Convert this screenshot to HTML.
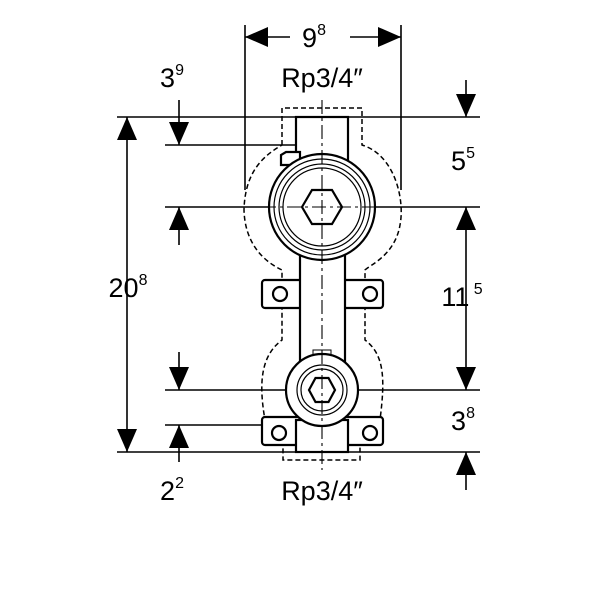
<!DOCTYPE html>
<html><head><style>body{margin:0;background:#fff}svg{display:block}</style></head><body>
<svg width="600" height="600" viewBox="0 0 600 600" xmlns="http://www.w3.org/2000/svg" font-family="Liberation Sans, sans-serif">
<g stroke="#000" stroke-width="1.6" fill="none">
<line x1="245" y1="25" x2="245" y2="190"/><line x1="401" y1="25" x2="401" y2="190"/>
<line x1="245" y1="37" x2="290" y2="37"/><line x1="350" y1="37" x2="401" y2="37"/>
<line x1="117" y1="117" x2="480" y2="117"/>
<line x1="165" y1="145" x2="300" y2="145"/>
<line x1="165" y1="207" x2="480" y2="207"/>
<line x1="165" y1="390" x2="480" y2="390"/>
<line x1="165" y1="425" x2="300" y2="425"/>
<line x1="117" y1="452" x2="480" y2="452"/>
<line x1="127" y1="117" x2="127" y2="452"/>
<line x1="179" y1="100" x2="179" y2="145"/><line x1="179" y1="207" x2="179" y2="245"/>
<line x1="179" y1="352" x2="179" y2="390"/><line x1="179" y1="425" x2="179" y2="462"/>
<line x1="466" y1="80" x2="466" y2="117"/><line x1="466" y1="207" x2="466" y2="390"/>
<line x1="466" y1="452" x2="466" y2="490"/>
</g>
<g fill="#000">
<polygon points="245,37 268,27 268,47"/><polygon points="401,37 378,27 378,47"/>
<polygon points="127,117 117,140 137,140"/><polygon points="127,452 117,429 137,429"/>
<polygon points="179,145 169,122 189,122"/><polygon points="179,207 169,230 189,230"/>
<polygon points="179,390 169,367 189,367"/><polygon points="179,425 169,448 189,448"/>
<polygon points="466,117 456,94 476,94"/><polygon points="466,207 456,230 476,230"/>
<polygon points="466,390 456,367 476,367"/><polygon points="466,452 456,475 476,475"/>
</g>
<g stroke="#000" stroke-width="1.5" fill="none" stroke-dasharray="5,3">
<path d="M282,145 L282,108 L362,108 L362,145 C395,155 405,200 400,225 C395,255 370,265 365,270 L365,340 C385,355 385,380 380,420 L360,420 L360,460 L283,460 L283,420 L265,420 C258,380 262,355 282,340 L282,270 C265,262 245,245 244,210 C245,170 265,155 282,145Z"/>
</g>
<g stroke="#000" stroke-width="2.2" fill="#fff">
<rect x="262" y="280" width="40" height="28" rx="3"/><rect x="343" y="280" width="40" height="28" rx="3"/>
<rect x="262" y="417" width="40" height="28" rx="3"/><rect x="343" y="417" width="40" height="28" rx="3"/>
<rect x="300" y="240" width="45" height="130"/>
<rect x="296" y="117" width="52" height="65"/>
<rect x="296" y="420" width="52" height="32"/>
<path d="M281,165 L281,155 L286,152 L300,152 L300,165Z"/>
<circle cx="322" cy="207" r="53"/><circle cx="322" cy="207" r="48" stroke-width="1.2"/><circle cx="322" cy="207" r="43" stroke-width="1.2"/><circle cx="322" cy="207" r="39" stroke-width="1.2"/>
<polygon points="302,207 312,190 332,190 342,207 332,224 312,224"/>
<rect x="313" y="350" width="18" height="12" stroke-width="1"/>
<circle cx="322" cy="390" r="36"/><circle cx="322" cy="390" r="25" stroke-width="1.2"/><circle cx="322" cy="390" r="21" stroke-width="1.2"/>
<polygon points="309,390 315.5,378 328.5,378 335,390 328.5,402 315.5,402"/>
<circle cx="280" cy="294" r="7"/><circle cx="370" cy="294" r="7"/>
<circle cx="279" cy="433" r="7"/><circle cx="370" cy="433" r="7"/>
</g>
<g stroke="#000" stroke-width="1.1" stroke-dasharray="14,4,3,4">
<line x1="322" y1="100" x2="322" y2="470"/>
<line x1="262" y1="207" x2="382" y2="207"/>
</g>
<g font-size="27" fill="#000" text-anchor="middle">
<text x="314" y="47">9<tspan font-size="16" dy="-12">8</tspan></text>
<text x="172" y="87">3<tspan font-size="16" dy="-12">9</tspan></text>
<text x="322" y="87">Rp3/4″</text>
<text x="463" y="170">5<tspan font-size="16" dy="-12">5</tspan></text>
<text x="128" y="297">20<tspan font-size="16" dy="-12">8</tspan></text>
<text x="462" y="306">11<tspan font-size="16" dy="-12"> 5</tspan></text>
<text x="463" y="430">3<tspan font-size="16" dy="-12">8</tspan></text>
<text x="172" y="500">2<tspan font-size="16" dy="-12">2</tspan></text>
<text x="322" y="500">Rp3/4″</text>
</g>
</svg>
</body></html>
